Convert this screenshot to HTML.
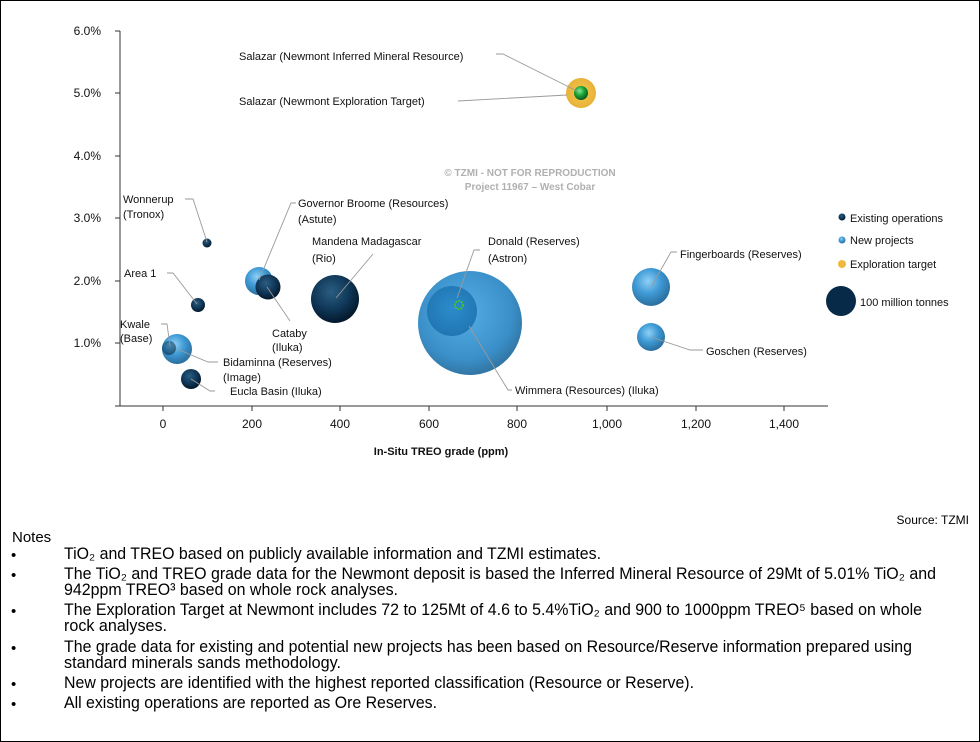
<!DOCTYPE html>
<html><head><meta charset="utf-8"><style>
html,body{margin:0;padding:0;background:#fff}
svg{display:block}
.l{font-family:"Liberation Sans",sans-serif;font-size:11px;fill:#111}
.n{font-family:"Liberation Sans",sans-serif;font-size:16.5px;fill:#000}
.ld{stroke:#9a9a9a;stroke-width:0.9;fill:none}
</style></head><body>
<svg width="980" height="742" viewBox="0 0 980 742" xmlns="http://www.w3.org/2000/svg">
<defs>
<radialGradient id="dk" cx="0.42" cy="0.35" r="0.65"><stop offset="0" stop-color="#2a5d82"/><stop offset="0.6" stop-color="#0f3656"/><stop offset="1" stop-color="#04182b"/></radialGradient>
<radialGradient id="lt" cx="0.42" cy="0.35" r="0.65"><stop offset="0" stop-color="#8fd0f5"/><stop offset="0.5" stop-color="#3f9bd6"/><stop offset="1" stop-color="#2a6e9e"/></radialGradient>
<radialGradient id="big" cx="0.45" cy="0.4" r="0.65"><stop offset="0" stop-color="#56aee6"/><stop offset="0.7" stop-color="#3a8fc8"/><stop offset="1" stop-color="#2f6e98"/></radialGradient>
<radialGradient id="don" cx="0.5" cy="0.45" r="0.6"><stop offset="0" stop-color="#2d8ccc"/><stop offset="1" stop-color="#1f74b0"/></radialGradient>
<radialGradient id="gr" cx="0.4" cy="0.35" r="0.65"><stop offset="0" stop-color="#7ef08a"/><stop offset="0.5" stop-color="#1ea53a"/><stop offset="1" stop-color="#0a5a1c"/></radialGradient>
<radialGradient id="ye" cx="0.5" cy="0.5" r="0.5"><stop offset="0" stop-color="#f5c94c"/><stop offset="1" stop-color="#e8b23a"/></radialGradient>
</defs>
<rect x="0.5" y="0.5" width="979" height="741" fill="#fff" stroke="#000" stroke-width="1"/>

<g stroke="#333" stroke-width="1">
<line x1="120" y1="31" x2="120" y2="406"/>
<line x1="120" y1="406" x2="828" y2="406"/>
<line x1="115" y1="31" x2="120" y2="31"/><line x1="115" y1="93" x2="120" y2="93"/>
<line x1="115" y1="156" x2="120" y2="156"/><line x1="115" y1="218" x2="120" y2="218"/>
<line x1="115" y1="281" x2="120" y2="281"/><line x1="115" y1="343" x2="120" y2="343"/>
<line x1="115" y1="406" x2="120" y2="406"/>
<line x1="163" y1="406" x2="163" y2="411"/><line x1="252" y1="406" x2="252" y2="411"/>
<line x1="340" y1="406" x2="340" y2="411"/><line x1="429" y1="406" x2="429" y2="411"/>
<line x1="517" y1="406" x2="517" y2="411"/><line x1="607" y1="406" x2="607" y2="411"/>
<line x1="696" y1="406" x2="696" y2="411"/><line x1="784" y1="406" x2="784" y2="411"/>
</g>
<g class="l" text-anchor="end" style="font-size:12px">
<text x="101" y="35">6.0%</text><text x="101" y="97">5.0%</text><text x="101" y="160">4.0%</text>
<text x="101" y="222">3.0%</text><text x="101" y="285">2.0%</text><text x="101" y="347">1.0%</text>
</g>
<g class="l" text-anchor="middle" style="font-size:12px">
<text x="163" y="428">0</text><text x="252" y="428">200</text><text x="340" y="428">400</text>
<text x="429" y="428">600</text><text x="517" y="428">800</text><text x="607" y="428">1,000</text>
<text x="696" y="428">1,200</text><text x="784" y="428">1,400</text>
<text x="441" y="455" style="font-weight:bold;font-size:11px">In-Situ TREO grade (ppm)</text>
</g>

<g text-anchor="middle" style="font-family:'Liberation Sans',sans-serif;font-weight:bold;font-size:10px;fill:#b0b0b0">
<text x="530" y="176">© TZMI  - NOT FOR REPRODUCTION</text>
<text x="530" y="190">Project 11967 – West Cobar</text>
</g>

<circle cx="470" cy="323" r="52" fill="url(#big)"/>
<circle cx="452" cy="311" r="25" fill="url(#don)"/>
<circle cx="459" cy="305" r="4" fill="none" stroke="#3cc63c" stroke-width="2" stroke-dasharray="2 1"/>
<circle cx="207" cy="243" r="4.5" fill="url(#dk)"/>
<circle cx="198" cy="305" r="7" fill="url(#dk)"/>
<circle cx="259" cy="281" r="14" fill="url(#lt)"/>
<circle cx="268" cy="287" r="12.5" fill="url(#dk)"/>
<circle cx="335" cy="299" r="24" fill="url(#dk)"/>
<circle cx="177" cy="349" r="15" fill="url(#lt)"/>
<circle cx="169" cy="348" r="7" fill="url(#dk)" opacity="0.55"/>
<circle cx="191" cy="379" r="10" fill="url(#dk)"/>
<circle cx="651" cy="287" r="19" fill="url(#lt)"/>
<circle cx="651" cy="337" r="14" fill="url(#lt)"/>
<circle cx="581" cy="93" r="15" fill="url(#ye)"/>
<circle cx="581" cy="93" r="7" fill="url(#gr)"/>

<polyline class="ld" points="496,54 503,54 579,92"/>
<polyline class="ld" points="458,101 567,95"/>
<polyline class="ld" points="185,199 193,199 207,242"/>
<polyline class="ld" points="296,203 291,203 259,280"/>
<polyline class="ld" points="373,254 336,298"/>
<polyline class="ld" points="167,273 173,273 197,304"/>
<polyline class="ld" points="161,324 167,324 170,346"/>
<polyline class="ld" points="290,321 267,287"/>
<polyline class="ld" points="218,362 208,362 177,349"/>
<polyline class="ld" points="215,391 210,391 191,379"/>
<polyline class="ld" points="480,250 474,250 457,298"/>
<polyline class="ld" points="512,390 508,390 469,326"/>
<polyline class="ld" points="677,252 671,252 651,287"/>
<polyline class="ld" points="703,350 690,350 651,337"/>

<g class="l">
<text x="239" y="60">Salazar (Newmont Inferred Mineral Resource)</text>
<text x="239" y="105">Salazar (Newmont Exploration Target)</text>
<text x="123" y="203">Wonnerup</text><text x="123" y="218">(Tronox)</text>
<text x="298" y="207">Governor Broome (Resources)</text><text x="298" y="223">(Astute)</text>
<text x="312" y="245">Mandena Madagascar</text><text x="312" y="262">(Rio)</text>
<text x="124" y="277">Area  1</text>
<text x="120" y="328">Kwale</text><text x="120" y="342">(Base)</text>
<text x="272" y="337">Cataby</text><text x="272" y="351">(Iluka)</text>
<text x="223" y="366">Bidaminna (Reserves)</text><text x="223" y="381">(Image)</text>
<text x="230" y="395">Eucla Basin (Iluka)</text>
<text x="488" y="245">Donald (Reserves)</text><text x="488" y="262">(Astron)</text>
<text x="515" y="394">Wimmera (Resources)  (Iluka)</text>
<text x="680" y="258">Fingerboards (Reserves)</text>
<text x="706" y="355">Goschen (Reserves)</text>
</g>

<circle cx="842" cy="217" r="3.5" fill="url(#dk)"/>
<circle cx="842" cy="240" r="3.5" fill="url(#lt)"/>
<circle cx="842" cy="264" r="4" fill="#f0b93e"/>
<circle cx="841" cy="301" r="15" fill="#062a48"/>
<g class="l">
<text x="850" y="222">Existing operations</text>
<text x="850" y="244">New projects</text>
<text x="850" y="268">Exploration target</text>
<text x="860" y="306">100 million tonnes</text>
</g>

<text x="969" y="524" text-anchor="end" style="font-family:'Liberation Sans',sans-serif;font-size:12px">Source: TZMI</text>
<g style="font-family:'Liberation Sans',sans-serif;font-size:15px">
<text x="12" y="542">Notes</text>
<text x="11" y="560">•</text><text x="11" y="580">•</text><text x="11" y="616">•</text>
<text x="11" y="653">•</text><text x="11" y="689">•</text><text x="11" y="709">•</text>
</g>
<g class="n">
<text x="64" y="559" textLength="537" lengthAdjust="spacingAndGlyphs">TiO₂ and TREO based on publicly available information and TZMI estimates.</text>
<text x="64" y="579" textLength="872" lengthAdjust="spacingAndGlyphs">The TiO₂ and TREO grade data for the Newmont deposit is based the Inferred Mineral Resource of 29Mt of 5.01% TiO₂ and</text>
<text x="64" y="595" textLength="334" lengthAdjust="spacingAndGlyphs">942ppm TREO³ based on whole rock analyses.</text>
<text x="64" y="615" textLength="858" lengthAdjust="spacingAndGlyphs">The Exploration Target at Newmont includes 72 to 125Mt of 4.6 to 5.4%TiO₂ and 900 to 1000ppm TREO⁵ based on whole</text>
<text x="64" y="631" textLength="103" lengthAdjust="spacingAndGlyphs">rock analyses.</text>
<text x="64" y="652" textLength="848" lengthAdjust="spacingAndGlyphs">The grade data for existing and potential new projects has been based on Resource/Reserve information prepared using</text>
<text x="64" y="668" textLength="277" lengthAdjust="spacingAndGlyphs">standard minerals sands methodology.</text>
<text x="64" y="688" textLength="630" lengthAdjust="spacingAndGlyphs">New projects are identified with the highest reported classification  (Resource or Reserve).</text>
<text x="64" y="708" textLength="373" lengthAdjust="spacingAndGlyphs">All existing  operations are reported as Ore Reserves.</text>
</g>
</svg>
</body></html>
